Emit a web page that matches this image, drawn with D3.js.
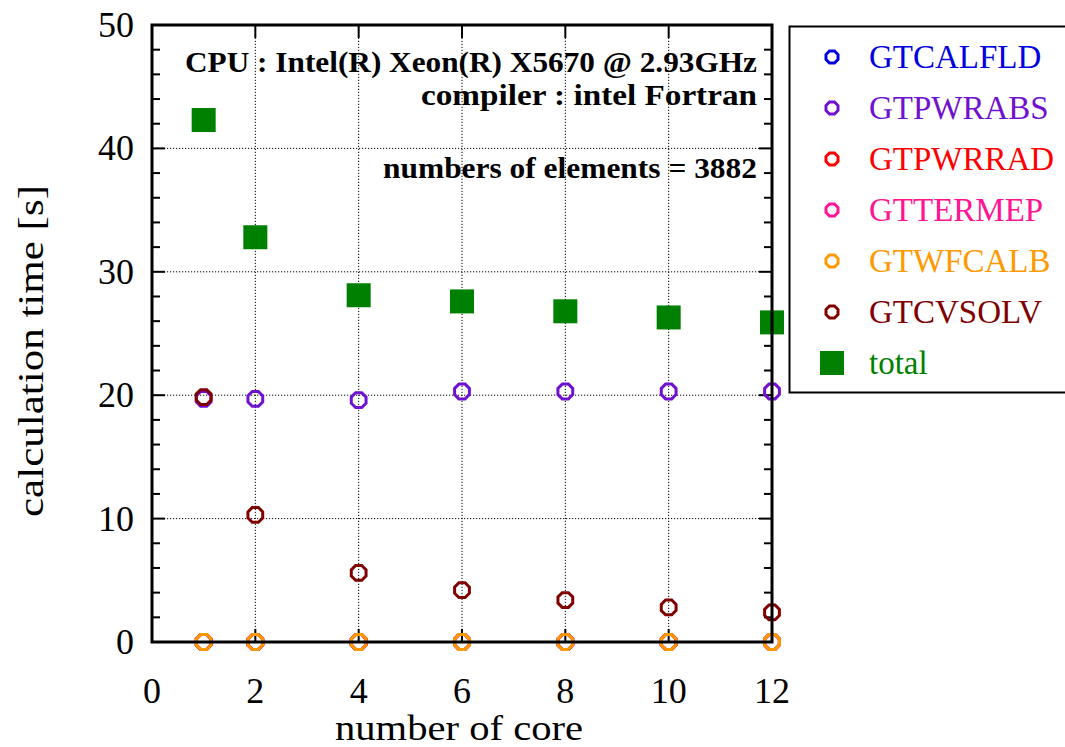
<!DOCTYPE html>
<html>
<head>
<meta charset="utf-8">
<script src="https://cdn.jsdelivr.net/npm/d3@7"></script>
<style>
  html, body { margin: 0; padding: 0; background: #fff; }
  svg { display: block; }
</style>
</head>
<body>
<svg id="chart" width="1065" height="747"></svg>
<script>
// Core counts and per-routine calculation times [s]
const cores = [1, 2, 4, 6, 8, 10, 12];
const seriesNames = ["GTCALFLD", "GTPWRABS", "GTPWRRAD", "GTTERMEP", "GTWFCALB", "GTCVSOLV", "total"];
const GTCALFLD = [0, 0, 0, 0, 0, 0, 0];
const GTPWRABS = [19.7, 19.7, 19.6, 20.3, 20.3, 20.3, 20.3];
const GTPWRRAD = [0, 0, 0, 0, 0, 0, 0];
const GTTERMEP = [0, 0, 0, 0, 0, 0, 0];
const GTWFCALB = [0, 0, 0, 0, 0, 0, 0];
const GTCVSOLV = [19.85, 10.3, 5.6, 4.2, 3.4, 2.8, 2.4];
const total = [42.3, 32.8, 28.1, 27.6, 26.8, 26.3, 25.9];
const xTicks = [0, 2, 4, 6, 8, 10, 12];
const yTicks = [0, 10, 20, 30, 40, 50];
const notes = ["CPU : Intel(R) Xeon(R) X5670 @ 2.93GHz", "compiler : intel Fortran", "numbers of elements = 3882"];

const seriesValues = [GTCALFLD, GTPWRABS, GTPWRRAD, GTTERMEP, GTWFCALB, GTCVSOLV, total];
const colors = ["#0000e0", "#7010d0", "#ff0000", "#ff1493", "#ff9900", "#800000", "#008000"];

const svg = d3.select("#chart");
const m = { left: 152, top: 25, right: 772, bottom: 642 };
const x = d3.scaleLinear().domain([0, 12]).range([m.left, m.right]);
const y = d3.scaleLinear().domain([0, 50]).range([m.bottom, m.top]);
const serif = "'Liberation Serif', 'DejaVu Serif', serif";

// Dotted grid at major ticks
const grid = svg.append("g").attr("stroke", "#000").attr("stroke-width", 1).attr("stroke-dasharray", "1.2,1.8");
xTicks.slice(1, -1).forEach(t => grid.append("line").attr("x1", x(t)).attr("x2", x(t)).attr("y1", m.bottom).attr("y2", m.top));
yTicks.slice(1, -1).forEach(t => grid.append("line").attr("x1", m.left).attr("x2", m.right).attr("y1", y(t)).attr("y2", y(t)));

// Inward ticks on all four sides
const ticks = svg.append("g").attr("stroke", "#000").attr("stroke-width", 2);
xTicks.forEach(t => {
  ticks.append("line").attr("x1", x(t)).attr("x2", x(t)).attr("y1", m.bottom).attr("y2", m.bottom - 13);
  ticks.append("line").attr("x1", x(t)).attr("x2", x(t)).attr("y1", m.top).attr("y2", m.top + 13);
});
d3.range(0, 51, 2).forEach(t => {
  const len = t % 10 === 0 ? 13 : 8;
  ticks.append("line").attr("x1", m.left).attr("x2", m.left + len).attr("y1", y(t)).attr("y2", y(t));
  ticks.append("line").attr("x1", m.right).attr("x2", m.right - len).attr("y1", y(t)).attr("y2", y(t));
});

// Tick labels
svg.append("g").selectAll("text").data(xTicks).join("text")
  .attr("x", d => x(d)).attr("y", 703).attr("text-anchor", "middle")
  .attr("font-family", serif).attr("font-size", 36).text(d => d);
svg.append("g").selectAll("text").data(yTicks).join("text")
  .attr("x", 134).attr("y", d => y(d) + 12).attr("text-anchor", "end")
  .attr("font-family", serif).attr("font-size", 36).text(d => d);

// Axis titles
svg.append("text").attr("x", 459).attr("y", 740).attr("text-anchor", "middle")
  .attr("font-family", serif).attr("font-size", 36)
  .attr("textLength", 248).attr("lengthAdjust", "spacingAndGlyphs").text("number of core");
svg.append("text").attr("transform", "translate(43,351) rotate(-90)")
  .attr("text-anchor", "middle").attr("font-family", serif).attr("font-size", 36)
  .attr("textLength", 332).attr("lengthAdjust", "spacingAndGlyphs").text("calculation time [s]");

// Annotation text, right-aligned inside the plot
const noteY = [72, 105, 178];
const noteW = [572, 336, 374];
notes.forEach((t, i) => svg.append("text").attr("x", 757).attr("y", noteY[i]).attr("text-anchor", "end")
  .attr("font-family", serif).attr("font-weight", "bold").attr("font-size", 29)
  .attr("textLength", noteW[i]).attr("lengthAdjust", "spacingAndGlyphs").text(t));

// Octagon marker path
function octagon(r) {
  const pts = d3.range(8).map(k => {
    const a = Math.PI / 8 + k * Math.PI / 4;
    return [r * Math.cos(a), r * Math.sin(a)];
  });
  return "M" + pts.map(p => p.join(",")).join("L") + "Z";
}

// Data marks
const plot = svg.append("g");
seriesValues.forEach((vals, si) => {
  const g = plot.append("g");
  if (seriesNames[si] === "total") {
    g.selectAll("rect").data(vals).join("rect")
      .attr("x", (d, i) => x(cores[i]) - 12).attr("y", d => y(d) - 12)
      .attr("width", 24).attr("height", 24).attr("fill", colors[si]);
  } else {
    g.selectAll("path").data(vals).join("path")
      .attr("transform", (d, i) => `translate(${x(cores[i])},${y(d)})`)
      .attr("d", octagon(8)).attr("fill", "none")
      .attr("stroke", colors[si]).attr("stroke-width", 3);
  }
});

// Plot frame
svg.append("rect").attr("x", m.left).attr("y", m.top).attr("width", m.right - m.left).attr("height", m.bottom - m.top)
  .attr("fill", "none").attr("stroke", "#000").attr("stroke-width", 3);

// Legend
const lg = svg.append("g");
lg.append("rect").attr("x", 789.5).attr("y", 26.5).attr("width", 290).attr("height", 366)
  .attr("fill", "#fff").attr("stroke", "#000").attr("stroke-width", 2);
seriesNames.forEach((name, i) => {
  const cy = 57 + i * 51;
  if (name === "total") {
    lg.append("rect").attr("x", 832 - 12).attr("y", cy - 12).attr("width", 24).attr("height", 24).attr("fill", colors[i]);
  } else {
    lg.append("path").attr("transform", `translate(832,${cy})`).attr("d", octagon(6.5))
      .attr("fill", "none").attr("stroke", colors[i]).attr("stroke-width", 3);
  }
  lg.append("text").attr("x", 869).attr("y", cy + 11).attr("font-family", serif).attr("font-size", 33)
    .attr("fill", colors[i]).text(name);
});
</script>
</body>
</html>
